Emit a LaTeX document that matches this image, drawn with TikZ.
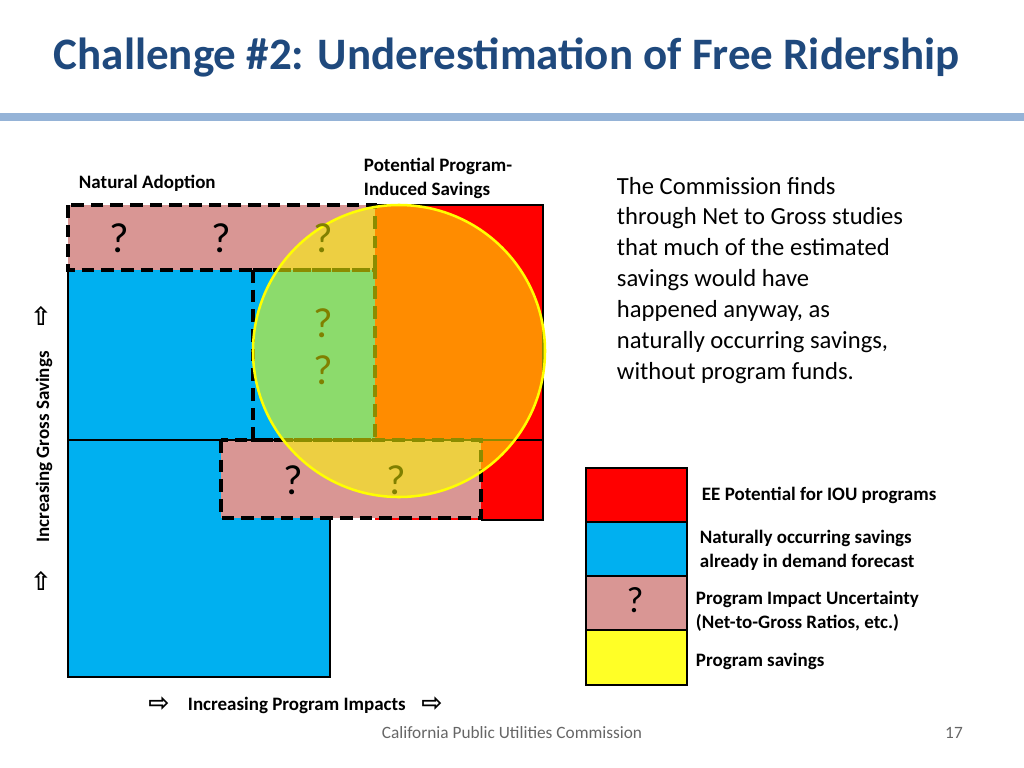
\documentclass[tikz,border=0pt]{standalone}
\usepackage{fontspec}
\setmainfont{Carlito}
\newfontfamily\symfont{DejaVu Sans}
\definecolor{titleblue}{RGB}{31,73,125}
\definecolor{barblue}{RGB}{149,179,215}
\definecolor{natblue}{RGB}{0,176,240}
\definecolor{uncpink}{RGB}{217,150,148}
\definecolor{progyellow}{RGB}{255,255,0}
\definecolor{qdark}{RGB}{128,128,0}
\tikzset{
  dashbox/.style={draw=black,line width=2.4pt,dash pattern=on 9pt off 5pt},
  lab/.style={font=\bfseries\fontsize{13.5}{17}\selectfont,align=left,anchor=west},
  qm/.style={font=\fontsize{30}{30}\selectfont},
  legbox/.style={draw=black,line width=2pt},
  arr/.style={font=\symfont\bfseries\fontsize{18}{18}\selectfont}
}
\begin{document}
\begin{tikzpicture}[x=0.025cm,y=-0.025cm]
\useasboundingbox (0,0) rectangle (1024,768);
% title and rule
\node[anchor=west,text=titleblue,font=\bfseries\fontsize{32}{36}\selectfont] (title) at (49,57) {Challenge \#2: Underestimation of Free Ridership};
\fill[barblue] (0,113) rectangle (1024,121);
% main blocks
\fill[red] (375,205) rectangle (543,520);
\fill[natblue] (68,270) rectangle (375,440);
\fill[natblue] (68,440) rectangle (330,677);
\fill[uncpink] (68,205) rectangle (375,270);
\fill[uncpink] (221,440) rectangle (481,518);
\draw[line width=2pt] (375,205) -- (543,205) -- (543,520) -- (481,520);
\draw[line width=2pt] (68,270) -- (68,677) -- (330,677) -- (330,518);
\draw[line width=2pt] (68,440) -- (543,440);
\draw[dashbox] (68,205) rectangle (375,270);
\draw[dashbox] (253,270) rectangle (375,440);
\draw[dashbox] (221,440) rectangle (481,518);
\node[qm] (q1) at (119,238) {?};
\node[qm] (q2) at (221,238) {?};
\node[qm] (q5) at (293,480) {?};
% program savings circle
\fill[progyellow,opacity=0.55] (399,351) circle (146);
\draw[progyellow,line width=1.8pt] (399,351) circle (146);
\node[qm,text=qdark] (q3) at (323,238) {?};
\node[qm,text=qdark] (q4) at (323,323) {?};
\node[qm,text=qdark] (q6) at (323,370) {?};
\node[qm,text=qdark] (q7) at (396,480) {?};
% labels
\node[lab] (natural) at (74,183) {Natural Adoption};
\node[lab,anchor=north west] (potential) at (359,153) {Potential Program-\\Induced Savings};
\node[anchor=north west,align=left,font=\fontsize{17.5}{22}\selectfont] (text) at (612,172) {The Commission finds\\through Net to Gross studies\\that much of the estimated\\savings would have\\happened anyway, as\\naturally occurring savings,\\without program funds.};
% axes
\node[rotate=90,font=\bfseries\fontsize{13.5}{17}\selectfont] (gross) at (44,447) {Increasing Gross Savings};
\node[arr] (up1) at (41,316) {⇧};
\node[arr] (up2) at (41,581) {⇧};
\node[lab] (impacts) at (183,705) {Increasing Program Impacts};
\node[arr] (rt1) at (159,704) {⇨};
\node[arr] (rt2) at (432,704) {⇨};
% legend
\fill[red] (586,468) rectangle (687,522);
\fill[natblue] (586,522) rectangle (687,576);
\fill[uncpink] (586,576) rectangle (687,630);
\fill[progyellow!85!white] (586,630) rectangle (687,685);
\foreach \ya/\yb in {468/522,522/576,576/630,630/685}
  \draw[legbox] (586,\ya) rectangle (687,\yb);
\node[qm,font=\fontsize{26}{26}\selectfont] (legq) at (635,600) {?};
\node[lab] (l1) at (697,495) {EE Potential for IOU programs};
\node[lab] (l2) at (695,550) {Naturally occurring savings\\already in demand forecast};
\node[lab] (l3) at (691,611) {Program Impact Uncertainty\\(Net-to-Gross Ratios, etc.)};
\node[lab] (l4) at (691,661) {Program savings};
% footer
\node[text=black!60,font=\fontsize{12.3}{14}\selectfont] (footer) at (512,733) {California Public Utilities Commission};
\node[text=black!60,font=\fontsize{12.3}{14}\selectfont] (page) at (954,733) {17};
\end{tikzpicture}
\end{document}
